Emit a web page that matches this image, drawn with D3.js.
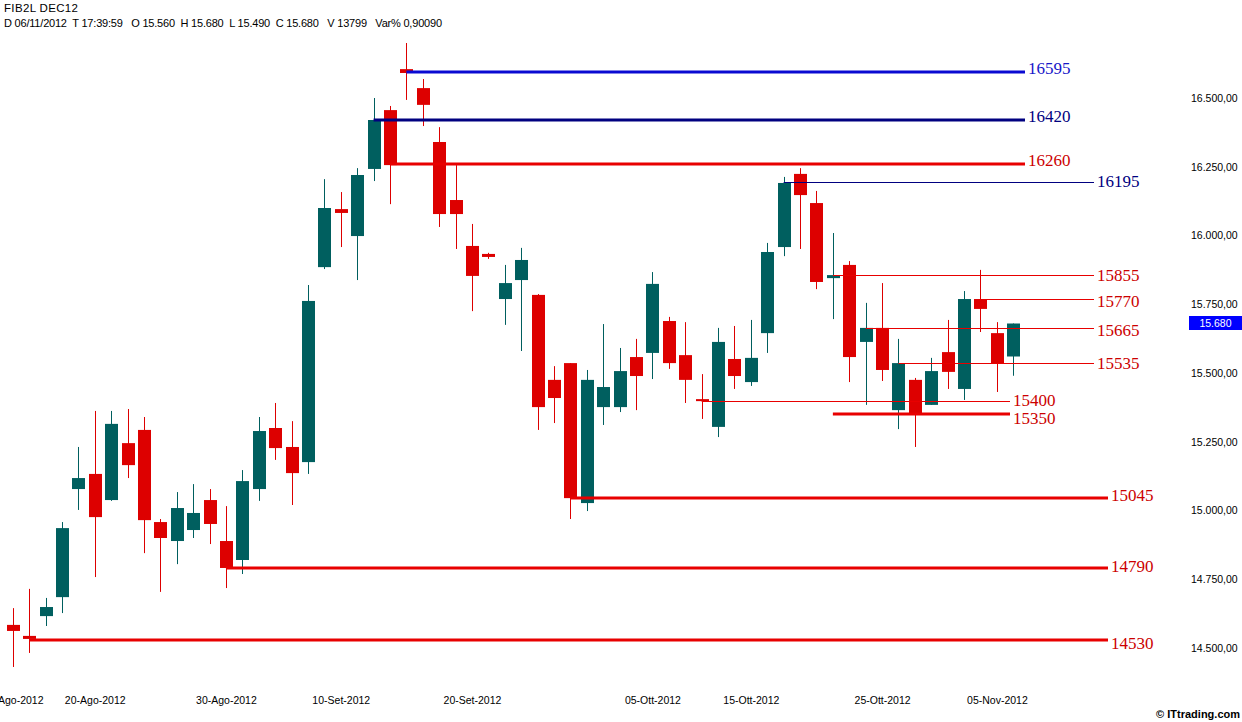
<!DOCTYPE html>
<html><head><meta charset="utf-8">
<script src="https://cdn.jsdelivr.net/npm/d3@7"></script>
<style>html,body{margin:0;padding:0;background:#fff;overflow:hidden}svg{display:block}</style>
</head><body>
<svg id="chart" width="1242" height="722"></svg>
<script>
// ---------------- DATA ----------------
const dates = [
 "2012-08-13","2012-08-14","2012-08-15","2012-08-16","2012-08-17","2012-08-20","2012-08-21","2012-08-22","2012-08-23","2012-08-24",
 "2012-08-27","2012-08-28","2012-08-29","2012-08-30","2012-08-31","2012-09-03","2012-09-04","2012-09-05","2012-09-06","2012-09-07",
 "2012-09-10","2012-09-11","2012-09-12","2012-09-13","2012-09-14","2012-09-17","2012-09-18","2012-09-19","2012-09-20","2012-09-21",
 "2012-09-24","2012-09-25","2012-09-26","2012-09-27","2012-09-28","2012-10-01","2012-10-02","2012-10-03","2012-10-04","2012-10-05",
 "2012-10-08","2012-10-09","2012-10-10","2012-10-11","2012-10-12","2012-10-15","2012-10-16","2012-10-17","2012-10-18","2012-10-19",
 "2012-10-22","2012-10-23","2012-10-24","2012-10-25","2012-10-26","2012-10-29","2012-10-30","2012-10-31","2012-11-01","2012-11-02",
 "2012-11-05","2012-11-06"];
const open  = [14584,14544,14616,14685,15078,15133,15038,15245,15293,14958,14889,14929,15038,14889,14820,15078,15300,15231,15176,15885,
               16096,15998,16242,16456,16605,16536,16340,16129,15962,15933,15769,15838,15784,15475,15536,15027,15376,15376,15558,15573,
               15689,15565,15405,15304,15551,15467,15645,15958,16224,16118,15845,15893,15613,15664,15365,15475,15384,15576,15442,15769,
               15645,15560];
const high  = [14645,14715,14682,14958,15231,15362,15362,15369,15340,14969,15067,15096,15078,15016,15147,15340,15391,15325,15820,16205,
               16158,16245,16500,16471,16700,16569,16394,16256,16042,15937,15893,15955,15787,15525,15536,15511,15678,15591,15624,15867,
               15704,15685,15496,15664,15671,15693,15973,16213,16245,16162,16009,15907,15755,15827,15624,15482,15555,15693,15798,15875,
               15685,15680];
const low   = [14431,14482,14580,14627,15002,14758,15035,15118,14845,14704,14805,14900,14878,14718,14769,15035,15184,15020,15133,15878,
               15958,15838,16198,16114,16493,16398,16031,15951,15725,15915,15675,15580,15293,15318,14969,14998,15311,15358,15365,15478,
               15515,15391,15333,15267,15442,15453,15573,15925,15951,15805,15696,15467,15384,15471,15296,15231,15384,15442,15402,15649,
               15431,15490];
const close = [14562,14533,14649,14936,15118,14976,15315,15165,14965,14900,15009,14991,14951,14791,15107,15289,15227,15136,15762,16100,
               16082,16220,16420,16256,16591,16475,16078,16078,15853,15922,15827,15911,15376,15409,15045,15475,15449,15507,15489,15824,
               15536,15475,15398,15613,15489,15555,15940,16191,16147,15831,15856,15558,15664,15511,15536,15351,15507,15504,15769,15733,
               15536,15680];

const tickDates  = ["2012-08-13","2012-08-20","2012-08-30","2012-09-10","2012-09-20","2012-10-05","2012-10-15","2012-10-25","2012-11-05"];
const tickLabels = ["13-Ago-2012","20-Ago-2012","30-Ago-2012","10-Set-2012","20-Set-2012","05-Ott-2012","15-Ott-2012","25-Ott-2012","05-Nov-2012"];
const yTicks = [14500,14750,15000,15250,15500,15750,16000,16250,16500];

const levelValues = [16595,16420,16260,16195,15855,15770,15665,15535,15400,15350,15045,14790,14530];
const levelStart  = ["2012-09-14","2012-09-12","2012-09-13","2012-10-17","2012-10-22","2012-11-02","2012-10-24","2012-10-26",
                     "2012-10-10","2012-10-22","2012-09-28","2012-08-30","2012-08-14"];
const lastPrice = 15680;
const headerTitle = "FIB2L DEC12";
const headerInfo = "D 06/11/2012  T 17:39:59   O 15.560  H 15.680  L 15.490  C 15.680   V 13799   Var% 0,90090";

// ---------------- STYLE ----------------
const UP = "#005f5f", DOWN = "#dd0000", LRED = "#e80000", TRED = "#cc0000", NAVY = "#000080", BLUE = "#0a0ad2";
// per level: colour, text colour, stroke width, line end x, label vertical nudge
const levelStyle = [
  {c:BLUE, t:"#1616c8", w:3, end:1025, dy:-4},
  {c:NAVY, t:NAVY, w:3, end:1025, dy:-4},
  {c:LRED, t:TRED, w:3, end:1025, dy:-4},
  {c:NAVY, t:NAVY, w:1, end:1094, dy:-1},
  {c:LRED, t:TRED, w:1, end:1094, dy:0},
  {c:LRED, t:TRED, w:1, end:1094, dy:2},
  {c:LRED, t:TRED, w:1, end:1094, dy:2},
  {c:LRED, t:TRED, w:1, end:1094, dy:0},
  {c:LRED, t:TRED, w:1, end:1010, dy:-1},
  {c:LRED, t:TRED, w:3, end:1010, dy:4},
  {c:LRED, t:TRED, w:3, end:1108, dy:-3},
  {c:LRED, t:TRED, w:3, end:1108, dy:-2},
  {c:LRED, t:TRED, w:3, end:1108, dy:3}
];

const svg = d3.select("#chart");
const x = d3.scalePoint().domain(dates).range([12.7, 1013.3]);
const y = d3.scaleLinear().domain([14500, 16500]).range([648, 98]);
const bodyW = 13;

const candles = dates.map((d,i)=>({d, o:open[i], h:high[i], l:low[i], c:close[i]}));

// header
svg.append("text").attr("x",4).attr("y",11.5).attr("font-family","Liberation Sans, Arial, sans-serif")
  .attr("font-size",11.5).attr("fill","#000").attr("textLength",74).attr("lengthAdjust","spacing").text(headerTitle);
svg.append("text").attr("x",4).attr("y",27).attr("font-family","Liberation Sans, Arial, sans-serif")
  .attr("font-size",11).attr("fill","#000").attr("xml:space","preserve").style("white-space","pre")
  .attr("textLength",438).attr("lengthAdjust","spacing").text(headerInfo);

// candles
const g = svg.append("g");
g.selectAll("line.wick").data(candles).join("line")
  .attr("x1",d=>Math.round(x(d.d))+0.5).attr("x2",d=>Math.round(x(d.d))+0.5)
  .attr("y1",d=>y(d.h)).attr("y2",d=>y(d.l))
  .attr("stroke",d=>d.c>=d.o?UP:DOWN).attr("stroke-width",1);
g.selectAll("rect.body").data(candles).join("rect")
  .attr("x",d=>Math.round(x(d.d))+0.5-bodyW/2)
  .attr("y",d=>y(Math.max(d.o,d.c)))
  .attr("width",bodyW)
  .attr("height",d=>Math.max(2,Math.abs(y(d.o)-y(d.c))))
  .attr("fill",d=>d.c>=d.o?UP:DOWN);

// levels
const levels = levelValues.map((v,i)=>({v, s:levelStart[i], st:levelStyle[i]}));
const lg = svg.append("g");
lg.selectAll("line").data(levels).join("line")
  .attr("x1",d=>x(d.s)).attr("x2",d=>d.st.end)
  .attr("y1",d=>Math.round(y(d.v))+(d.st.w===1?0.5:0)).attr("y2",d=>Math.round(y(d.v))+(d.st.w===1?0.5:0))
  .attr("stroke",d=>d.st.c).attr("stroke-width",d=>d.st.w);
lg.selectAll("text").data(levels).join("text")
  .attr("x",d=>d.st.end+3).attr("y",d=>y(d.v)+6+d.st.dy)
  .attr("font-family","Liberation Serif, Times New Roman, serif").attr("font-size",17)
  .attr("fill",d=>d.st.t).text(d=>d.v);

// right axis
const locale = d3.formatLocale({decimal:",", thousands:".", grouping:[3], currency:["",""]});
const fmt = locale.format(",.2f");
const ax = svg.append("g").attr("transform","translate(1191,0)")
  .call(d3.axisRight(y).tickValues(yTicks).tickSize(0).tickPadding(0).tickFormat(fmt));
ax.select(".domain").remove();
ax.selectAll("text").attr("font-family","Liberation Sans, Arial, sans-serif").attr("font-size",10.5).attr("fill","#000");

// last price box
svg.append("rect").attr("x",1189).attr("y",y(lastPrice)-7.5).attr("width",53).attr("height",14).attr("fill","#0000ff");
svg.append("text").attr("x",1215.5).attr("y",y(lastPrice)+3.5).attr("text-anchor","middle")
  .attr("font-family","Liberation Sans, Arial, sans-serif").attr("font-size",10.5).attr("fill","#fff")
  .text(d3.format(",")(lastPrice).replace(",","."));

// bottom axis
const xa = svg.append("g").attr("transform","translate(0,697)")
  .call(d3.axisBottom(x).tickValues(tickDates).tickSize(0).tickPadding(0).tickFormat((d,i)=>tickLabels[i]));
xa.select(".domain").remove();
xa.selectAll("text").attr("font-family","Liberation Sans, Arial, sans-serif").attr("font-size",10.5).attr("fill","#000");

// watermark
svg.append("text").attr("x",1240).attr("y",718).attr("text-anchor","end")
  .attr("font-family","Liberation Sans, Arial, sans-serif").attr("font-size",11).attr("font-weight","bold")
  .attr("fill","#000").text("\u00A9 ITtrading.com");
</script>
</body></html>
